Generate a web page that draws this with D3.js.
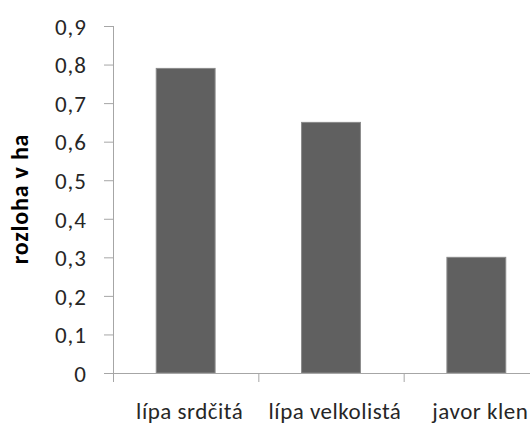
<!DOCTYPE html>
<html>
<head>
<meta charset="utf-8">
<script src="https://cdn.jsdelivr.net/npm/d3@7"></script>
<style>
  html, body { margin: 0; padding: 0; background: #fff; }
  svg { display: block; font-family: Carlito, Calibri, "Liberation Sans", Arial, sans-serif; }
</style>
</head>
<body>
<svg id="chart" width="530" height="426"></svg>
<script>
// Plocha porostu podle dřeviny
const categories = ["lípa srdčitá", "lípa velkolistá", "javor klen"];
const values = [0.79, 0.65, 0.30];
const yTicks = [0, 0.1, 0.2, 0.3, 0.4, 0.5, 0.6, 0.7, 0.8, 0.9];
const yTitle = "rozloha v ha";

const svg = d3.select("#chart");
const plot = { left: 113, right: 549, top: 26, bottom: 373 };
const fontStack = "Carlito, Calibri, 'Liberation Sans', Arial, sans-serif";

const x = d3.scaleBand()
  .domain(categories)
  .range([plot.left, plot.right])
  .paddingInner(0.595)
  .paddingOuter(0.2975);

const xCat = d3.scaleBand().domain(categories).range([plot.left, plot.right]);

const y = d3.scaleLinear().domain([0, 0.9]).range([plot.bottom, plot.top]);

const axisColor = "#a6a6a6";
const fmt = v => v === 0 ? "0" : d3.format(".1f")(v).replace(".", ",");

// osa y
const yAxis = svg.append("g")
  .attr("transform", `translate(${plot.left},0)`)
  .call(d3.axisLeft(y).tickValues(yTicks).tickSize(9).tickPadding(17).tickFormat(fmt));
yAxis.attr("font-size", null).attr("font-family", null);
yAxis.select(".domain").attr("stroke", axisColor).attr("d", `M0.5,${plot.top}V${plot.bottom}`);
yAxis.selectAll(".tick line").attr("stroke", axisColor);
yAxis.selectAll(".tick text").attr("fill", "#262626").attr("dy", "0.36em")
  .style("font-size", "23px").style("letter-spacing", "1px").style("font-family", fontStack);

// sloupce
svg.append("g").selectAll("rect")
  .data(values)
  .join("rect")
  .attr("x", (d, i) => x(categories[i]))
  .attr("y", d => y(d))
  .attr("width", x.bandwidth())
  .attr("height", d => y(0) - y(d))
  .attr("fill", "#606060")
  .attr("stroke", "#8a8a8a")
  .attr("stroke-width", 1);

// osa x
const xAxis = svg.append("g").attr("transform", `translate(0,${plot.bottom})`);
xAxis.append("line")
  .attr("x1", plot.left - 9).attr("x2", 530)
  .attr("y1", 0.5).attr("y2", 0.5)
  .attr("stroke", axisColor);
xAxis.selectAll("line.tk")
  .data(categories)
  .join("line")
  .attr("class", "tk")
  .attr("x1", d => xCat(d) + 0.5).attr("x2", d => xCat(d) + 0.5)
  .attr("y1", 0).attr("y2", 9)
  .attr("stroke", axisColor);
xAxis.selectAll("text")
  .data(categories)
  .join("text")
  .attr("x", d => xCat(d) + xCat.bandwidth() / 2 + 4)
  .attr("y", 46)
  .attr("text-anchor", "middle")
  .attr("fill", "#262626")
  .style("font-size", "23px")
  .style("letter-spacing", "0.5px")
  .text(d => d);

// popis osy y
svg.append("text")
  .attr("transform", `translate(28,199) rotate(-90)`)
  .attr("text-anchor", "middle")
  .attr("font-weight", "bold")
  .attr("fill", "#000")
  .style("font-size", "24px")
  .style("letter-spacing", "0.8px")
  .text(yTitle);
</script>
</body>
</html>
